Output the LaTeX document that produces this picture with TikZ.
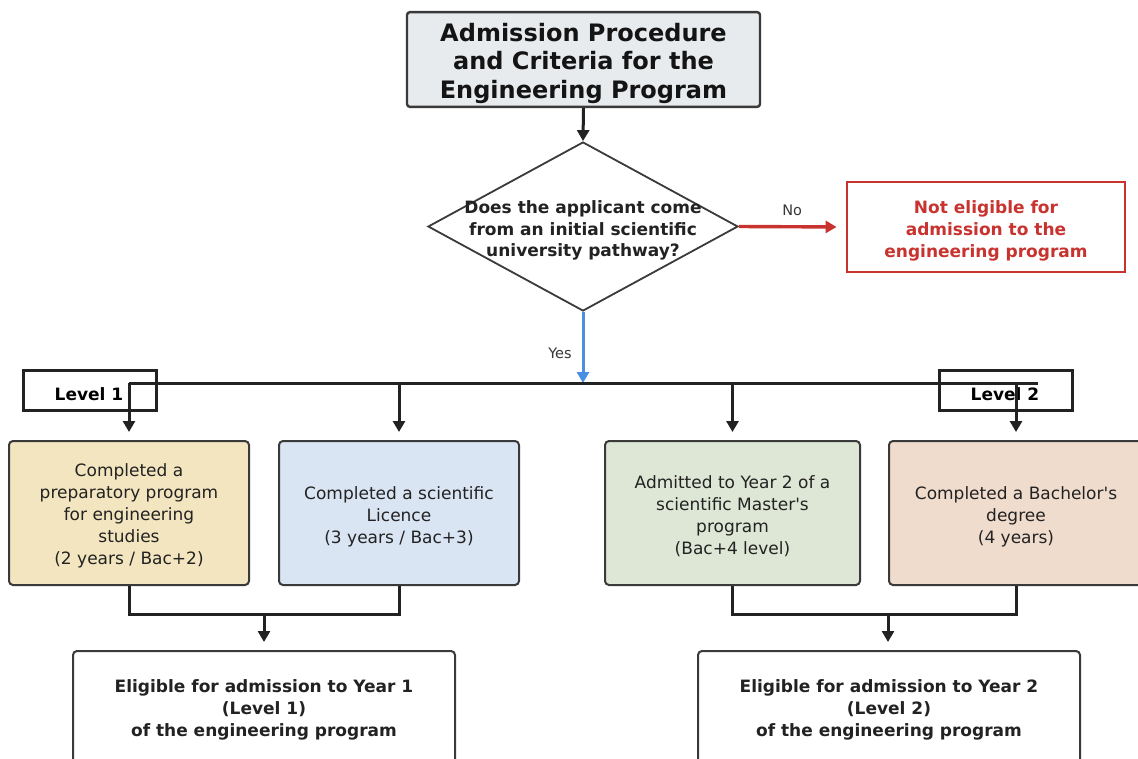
\documentclass[tikz,border=0pt]{standalone}
\usepackage{fontspec}
\setmainfont{DejaVu Sans}[Ligatures=TeXOff]
\usetikzlibrary{shapes.geometric,arrows.meta}
\definecolor{ink}{HTML}{222222}
\definecolor{edge}{HTML}{3A3A3A}
\definecolor{titlefill}{HTML}{E8EBEE}
\definecolor{nored}{HTML}{C8332F}
\definecolor{yesblue}{HTML}{4A90E2}
\definecolor{fillA}{HTML}{F3E5BF}
\definecolor{fillB}{HTML}{DAE5F4}
\definecolor{fillC}{HTML}{DEE7D5}
\definecolor{fillD}{HTML}{F0DCCD}
\newcommand\lift[1]{\rule{0pt}{#1}}
\tikzset{
  x=1pt, y=-1pt,
  tip/.style={-{Triangle[length=11pt,width=12pt]}},
  conn/.style={draw=ink, line width=3pt},
  titlebox/.style={draw=edge, line width=2.4pt, fill=titlefill, rounded corners=3pt,
     minimum width=353pt, minimum height=91pt, align=center, text=ink!60!black,
     font=\fontsize{24}{28.5}\selectfont\bfseries},
  optbox/.style={draw=edge, line width=2pt, rounded corners=4pt, minimum height=144pt,
     align=center, text=ink, font=\fontsize{17}{22}\selectfont},
  resbox/.style={draw=edge, line width=2pt, rounded corners=4pt, fill=white,
     minimum width=382pt, minimum height=114pt, align=center, text=ink,
     font=\fontsize{17}{22}\selectfont\bfseries},
  levelbox/.style={draw=ink, line width=3pt, minimum width=133pt, minimum height=40pt},
  levellabel/.style={text=black, font=\fontsize{17}{20}\selectfont\bfseries},
  edgelabel/.style={text=ink!90, font=\fontsize{14.5}{16}\selectfont},
}
\begin{document}
\begin{tikzpicture}
\useasboundingbox (0,0) rectangle (1138,758);
\clip (0,0) rectangle (1138,758);
\fill[white] (0,0) rectangle (1138,758);

% title
\node[titlebox] (title) at (583.5,59.5) {\lift{26pt}Admission Procedure\\and Criteria for the\\Engineering Program};

% decision
\node[diamond, draw=edge, line width=1.8pt, fill=white, minimum width=310pt, minimum height=169pt, inner sep=0pt] (q) at (583,226.5) {};
\node[align=center, text=ink, font=\fontsize{17}{21.5}\selectfont\bfseries] (qtext) at (583,230.5)
  {Does the applicant come\\from an initial scientific\\university pathway?};

% not eligible
\node[draw=nored, line width=2.8pt, minimum width=278pt, minimum height=90pt, align=center,
      text=nored, font=\fontsize{17}{22}\selectfont\bfseries] (no) at (986,227)
  {\lift{21pt}Not eligible for\\admission to the\\engineering program};

% level boxes
\node[levelbox] (lv1) at (89.5,390) {};
\node[levellabel] (lv1t) at (89,394) {Level 1};
\node[levelbox] (lv2) at (1005.5,390) {};
\node[levellabel] (lv2t) at (1005,394) {Level 2};

% option boxes
\node[optbox, fill=fillA, minimum width=240pt] (o1) at (129,513)
  {\lift{19pt}Completed a\\preparatory program\\for engineering\\studies\\(2 years / Bac+2)};
\node[optbox, fill=fillB, minimum width=240pt] (o2) at (399,513)
  {\lift{21pt}Completed a scientific\\Licence\\(3 years / Bac+3)};
\node[optbox, fill=fillC, minimum width=255pt] (o3) at (732.5,513)
  {\lift{19pt}Admitted to Year 2 of a\\scientific Master's\\program\\(Bac+4 level)};
\node[optbox, fill=fillD, minimum width=254pt] (o4) at (1016,513)
  {\lift{21pt}Completed a Bachelor's\\degree\\(4 years)};

% result boxes
\node[resbox] (r1) at (264,708) {\lift{17pt}Eligible for admission to Year 1\\(Level 1)\\of the engineering program};
\node[resbox] (r2) at (889,708) {\lift{17pt}Eligible for admission to Year 2\\(Level 2)\\of the engineering program};

% coordinates
\coordinate (busL) at (129,383);
\coordinate (busR) at (1038,383);
\coordinate (busM) at (583,383);
\coordinate (mL) at (264,614);
\coordinate (mR) at (888,614);

% connectors
\draw[conn, tip] (title.south) -- (q.north);
\draw[draw=nored, line width=3.4pt, -{Triangle[length=11pt,width=12pt]}, shorten >=9pt] (q.east) -- (no.west)
  node[midway, above=6pt, edgelabel] (nolab) {No};
\draw[draw=yesblue, line width=3pt, -{Triangle[length=11pt,width=12pt]}] (q.south) -- (busM);
\node[edgelabel] (yeslab) at (560,353) {Yes};
\draw[conn] (busL) -- (busR);
\foreach \n in {o1,o2,o3,o4}{
  \draw[conn, tip, shorten >=8pt] (\n.north |- busL) -- (\n.north);
}
\draw[conn] (o1.south) -- (o1.south |- mL) -- (o2.south |- mL) -- (o2.south);
\draw[conn] (o3.south) -- (o3.south |- mR) -- (o4.south |- mR) -- (o4.south);
\draw[conn, tip, shorten >=8pt] (mL) -- (r1.north);
\draw[conn, tip, shorten >=8pt] (mR) -- (mR |- r2.north);
\end{tikzpicture}
\end{document}
